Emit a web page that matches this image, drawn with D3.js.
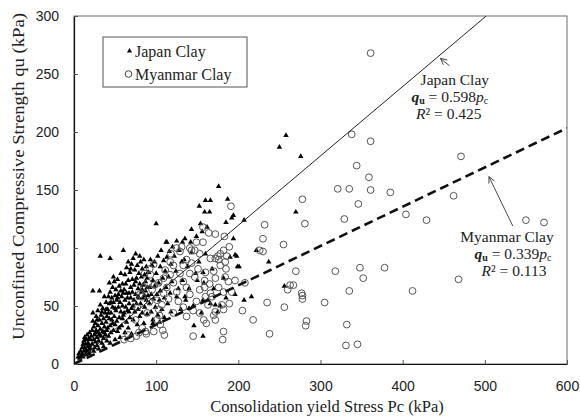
<!DOCTYPE html>
<html>
<head>
<meta charset="utf-8">
<script src="https://cdn.jsdelivr.net/npm/d3@7"></script>
<style>
  body { margin: 0; background: #fff; }
  svg { display: block; }
</style>
</head>
<body>
<svg id="chart" width="580" height="417"></svg>
<script>
// Consolidation yield stress Pc (kPa) vs unconfined compressive strength qu (kPa)
const japanClay = [
  [5,6],[6,9],[7,5],[8,11],[9,7],[10,14],[10,9],[11,17],[12,11],[12,20],[13,14],[13,23],[14,8],[14,17],[15,21],[15,12],[16,25],[16,10],[17,18],[17,15],[18,22],[18,12],[19,27],[19,16],[20,21],[20,13],[21,24],[11,6],[15,8],[19,9],
  [22,29],[22,17],[23,63],[23,37],[24,21],[24,32],[24,11],[25,25],[25,14],[26,35],[26,19],[27,29],[27,41],[28,23],[28,16],[29,33],[29,46],[30,27],[30,20],[30,13],[31,63],[31,38],[32,93],[32,30],[32,51],[33,24],[33,42],[34,35],[34,18],[35,48],[35,28],[36,39],[36,22],[36,15],[37,58],[37,32],[38,44],[38,25],[39,53],[39,36],[40,29],[40,41],[40,20],[23,44],[26,27],[28,38],[31,25],[34,45],[37,27],[39,47],
  [41,47],[41,31],[42,58],[42,24],[43,39],[43,52],[44,91],[44,33],[44,18],[44,62],[45,44],[45,27],[46,57],[46,38],[47,49],[47,66],[48,29],[48,53],[49,41],[49,71],[50,34],[50,21],[50,59],[51,46],[51,64],[52,37],[52,55],[53,73],[53,28],[54,49],[54,60],[55,40],[55,67],[56,23],[56,53],[57,45],[57,78],[58,33],[58,58],[59,69],[59,50],[60,98],[60,42],[60,61],[42,44],[45,53],[47,35],[50,48],[53,57],[55,31],[57,63],[59,39],[43,70],[48,75],
  [61,64],[61,44],[62,77],[62,27],[62,55],[63,49],[63,69],[64,36],[64,83],[65,57],[65,46],[66,72],[66,31],[67,61],[67,52],[68,79],[68,40],[69,66],[69,57],[70,86],[70,26],[70,48],[71,73],[71,62],[72,38],[72,91],[73,55],[73,68],[74,81],[74,45],[75,95],[75,60],[76,52],[76,74],[77,34],[77,85],[78,65],[78,47],[79,57],[79,78],[80,69],[80,41],[81,88],[81,52],[82,62],[82,75],[83,44],[83,82],[84,57],[84,68],[85,90],[85,35],[86,49],[86,77],[87,63],[87,71],[88,84],[88,55],[89,43],[89,66],[90,79],[90,59],[64,61],[67,45],[69,82],[72,50],[75,71],[78,58],[80,93],[83,64],[86,59],[89,74],[66,88],
  [91,79],[92,52],[92,66],[93,90],[94,60],[94,45],[95,85],[96,72],[96,38],[97,56],[98,88],[98,67],[99,49],[100,121],[100,78],[101,60],[102,93],[102,42],[103,70],[104,55],[105,84],[105,63],[106,98],[107,47],[108,74],[109,89],[110,57],[110,40],[111,80],[112,105],[112,66],[113,92],[114,52],[115,75],[116,97],[117,61],[118,86],[118,45],[119,71],[120,101],[96,35],[104,36],[113,105],[125,106],[132,105],[135,108],[142,105],
  [122,93],[124,80],[125,58],[127,65],[128,98],[130,47],[131,88],[132,72],[134,90],[135,58],[136,55],[138,84],[140,65],[140,48],[143,116],[143,96],[145,50],[146,33],[149,110],[148,78],[150,72],[152,88],[152.5,136],[154,121],[155,44],[156,114],[157,24],[157,79],[157,55],[158,70],[159,131],[160,141],[160,95],[162,118],[163,55],[165,131],[166,141],[166,52],[168,82],[170,65],[172,51],[175,45],[176,153],[178,50],[182,74],[185,57],[185,122],[187,142],[190,92],[192,126],[194,128],[194,108],[196,60],[196,94],[198,93],[199,84],[201,84],
  [207,124],[207,55],[216,58],[222,98],[237,88],[250,187],[258,197],[276,179],[270,131],[256,67]
];

const myanmarClay = [
  [61,21],[66,25],[69,22],[76,24],[79,27],[87,28],[88,26],[97,28],[105,34],[108,29],[110,25],[145,24],
  [75,38],[77,49],[83,31],[83,58],[89,44],[93,77],[95,64],[101,55],[101,38],[103,70],[92,54],[97,86],[86,78],[92,82],[104,42],[107,51],[109,74],[109,61],[103,47],[98,68],[85,66],[80,60],[90,70],
  [117,88],[121,85],[121,70],[121,44],[125,62],[129,97],[129,78],[133,85],[133,71],[133,49],[137,90],[137,41],[141,100],[141,78],[141,60],[143,87],[147,98],[147,75],[149,54],[153,95],[153,64],[153,44],[157,105],[157,118],[159,72],[163,51],[164,113],[166,61],[170,42],[172,112],[172,91],[172,74],[176,90],[178,85],[180,51],[182,47],[182,98],[182,62],[183,110],[184,88],[185,82],[184,75],[189,101],[189,52],[178,95],[196,72],[158,38],[161,35],[172,38],[182,28],[181,21],[131,101],[143,98],[149,105],[125,100],[118,95],[113,66],[115,56],[127,54],[137,66],[145,46],[151,82],[160,79],[166,91],[175,93],[186,93],[165,69],[170,80],[176,66],[188,71],[192,62],[160,58],[117,77],[111,81],[159,66],[168,58],[172,45],
  [191,136],[205,46],[208,70],[218,38],[226,98],[230,97],[230,108],[232,120],[235,53],[238,26],[255,103],[256,49],[260,64],[263,68],[267,68],[270,80],[277,61],[278,59],[278,56],[283,37],[282,33],
  [338,198],[361,192],[471,179],[344,171],[359,161],[321,151],[335,151],[361,150],[385,148],[278,142],[346,138],[462,145],[404,129],[429,124],[329,125],[281,121],[550,124],[572,122],[361,268],[318,80],[348,83],[352,74],[378,83],[468,73],[335,63],[412,63],[305,53],[332,34],[331,16],[345,17]
];

const xTicks = [0, 100, 200, 300, 400, 500, 600];
const yTicks = [0, 50, 100, 150, 200, 250, 300];

// Fitted lines through the origin: qu = slope * pc
const japanSlope = 0.598, japanR2 = 0.425;
const myanmarSlope = 0.339, myanmarR2 = 0.113;

const svg = d3.select("#chart");
const x = d3.scaleLinear().domain([0, 600]).range([74, 567]);
const y = d3.scaleLinear().domain([0, 300]).range([364, 16]);

const serif = "'Liberation Serif', 'Times New Roman', Times, serif";
const sans = "'Liberation Sans', Arial, sans-serif";

svg.append("rect").attr("width", 580).attr("height", 417).attr("fill", "#fff");

svg.append("defs").append("clipPath").attr("id", "plot-clip")
  .append("rect").attr("x", x(0)).attr("y", y(300))
  .attr("width", x(600) - x(0)).attr("height", y(0) - y(300));

// frame
svg.append("rect")
  .attr("x", x(0)).attr("y", y(300))
  .attr("width", x(600) - x(0)).attr("height", y(0) - y(300))
  .attr("fill", "none").attr("stroke", "#6a6a6a").attr("stroke-width", 1);

// axes with inward ticks
const xAxis = svg.append("g").attr("transform", `translate(0,${y(0)})`)
  .call(d3.axisBottom(x).tickValues(xTicks).tickSizeInner(-4).tickSizeOuter(0).tickPadding(17));
const yAxis = svg.append("g").attr("transform", `translate(${x(0)},0)`)
  .call(d3.axisLeft(y).tickValues(yTicks).tickSizeInner(-4).tickSizeOuter(0).tickPadding(15));
[xAxis, yAxis].forEach(g => {
  g.select(".domain").attr("stroke", "#111").attr("stroke-width", 1.2);
  g.selectAll(".tick line").attr("stroke", "#555");
  g.selectAll(".tick text").style("font-family", sans).attr("font-size", 14).attr("fill", "#222");
});

// points
const tri = d3.symbol().type(d3.symbolTriangle).size(13);
const pts = svg.append("g").attr("clip-path", "url(#plot-clip)");
pts.selectAll("path.jp").data(japanClay).join("path")
  .attr("class", "jp")
  .attr("d", tri)
  .attr("transform", d => `translate(${x(d[0])},${y(d[1])})`)
  .attr("fill", "#000");
pts.selectAll("circle.mm").data(myanmarClay).join("circle")
  .attr("class", "mm")
  .attr("cx", d => x(d[0])).attr("cy", d => y(d[1])).attr("r", 3.4)
  .attr("fill", "none").attr("stroke", "#555").attr("stroke-width", 1);

// regression lines
const lines = svg.append("g").attr("clip-path", "url(#plot-clip)");
lines.append("line")
  .attr("x1", x(0)).attr("y1", y(0))
  .attr("x2", x(300 / japanSlope)).attr("y2", y(300))
  .attr("stroke", "#222").attr("stroke-width", 1);
lines.append("line")
  .attr("x1", x(0)).attr("y1", y(0))
  .attr("x2", x(600)).attr("y2", y(600 * myanmarSlope))
  .attr("stroke", "#111").attr("stroke-width", 2.6).attr("stroke-dasharray", "9,5");

// annotation arrows (open heads)
function arrow(from, to) {
  const x1 = x(from[0]), y1 = y(from[1]), x2 = x(to[0]), y2 = y(to[1]);
  const a = Math.atan2(y1 - y2, x1 - x2), L = 7, s = 0.45;
  const p1 = [x2 + L * Math.cos(a + s), y2 + L * Math.sin(a + s)];
  const p2 = [x2 + L * Math.cos(a - s), y2 + L * Math.sin(a - s)];
  svg.append("path")
    .attr("d", `M${x1},${y1}L${x2},${y2}M${p1[0]},${p1[1]}L${x2},${y2}L${p2[0]},${p2[1]}`)
    .attr("fill", "none").attr("stroke", "#333").attr("stroke-width", 0.9);
}
arrow([457, 257], [446, 263.5]);
arrow([534, 119], [505, 161.5]);

// equation labels
function eqLabel(cx, baseY, name, slope, r2, dxs) {
  const t = svg.append("g").style("font-family", serif).attr("font-size", 15.5).attr("fill", "#222")
    .attr("text-anchor", "middle");
  t.append("text").attr("x", x(cx) + dxs[0]).attr("y", y(baseY)).text(name);
  const f = t.append("text").attr("x", x(cx) + dxs[1]).attr("y", y(baseY) + 17);
  f.append("tspan").attr("font-style", "italic").attr("font-weight", "bold").text("q");
  f.append("tspan").attr("font-size", 10).attr("font-weight", "bold").attr("dy", 2).text("u");
  f.append("tspan").attr("dy", -2).text(" = " + slope.toFixed(3));
  f.append("tspan").attr("font-style", "italic").text("p");
  f.append("tspan").attr("font-size", 10).attr("dy", 2).text("c");
  const r = t.append("text").attr("x", x(cx) + dxs[2]).attr("y", y(baseY) + 34);
  r.append("tspan").attr("font-style", "italic").text("R");
  r.append("tspan").text("² = " + r2.toFixed(3));
}
eqLabel(463.5, 240.5, "Japan Clay", japanSlope, japanR2, [0, -5, -6]);
eqLabel(527, 105.5, "Myanmar Clay", myanmarSlope, myanmarR2, [0, 6, 7]);

// legend
const lg = svg.append("g").style("font-family", serif).attr("font-size", 16).attr("fill", "#222");
lg.append("rect").attr("x", 103).attr("y", 37).attr("width", 144).attr("height", 50)
  .attr("fill", "#fff").attr("stroke", "#555").attr("stroke-width", 1);
lg.append("path").attr("d", d3.symbol().type(d3.symbolTriangle).size(11))
  .attr("transform", "translate(129.5,51)").attr("fill", "#000");
lg.append("text").attr("x", 135).attr("y", 57).text("Japan Clay");
lg.append("circle").attr("cx", 128.5).attr("cy", 74).attr("r", 3.3)
  .attr("fill", "none").attr("stroke", "#444");
lg.append("text").attr("x", 135).attr("y", 80).text("Myanmar Clay");

// axis titles
svg.append("text")
  .attr("x", 327).attr("y", 412).attr("text-anchor", "middle")
  .style("font-family", serif).attr("font-size", 16.5).attr("fill", "#222")
  .text("Consolidation yield Stress Pc (kPa)");
svg.append("text")
  .attr("transform", "translate(23.5,176.5) rotate(-90)").attr("text-anchor", "middle")
  .style("font-family", serif).attr("font-size", 17).attr("fill", "#222")
  .attr("textLength", 327).attr("lengthAdjust", "spacingAndGlyphs")
  .text("Unconfined Compressive Strength qu (kPa)");
</script>
</body>
</html>
